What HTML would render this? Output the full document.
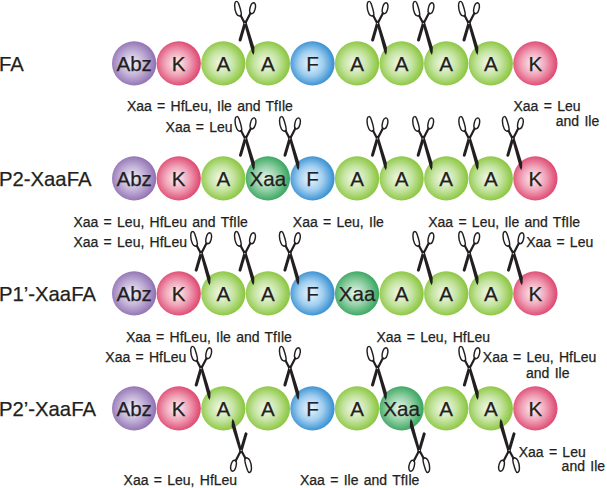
<!DOCTYPE html><html><head><meta charset="utf-8"><style>html,body{margin:0;padding:0;background:#fff;width:607px;height:488px;overflow:hidden}svg{display:block}text{font-family:"Liberation Sans",sans-serif;fill:#231f20;stroke:#231f20;stroke-width:0.25px;paint-order:stroke}</style></head><body>
<svg width="607" height="488" viewBox="0 0 607 488">
<defs>
<radialGradient id="gpur" cx="0.47" cy="0.5" r="0.5" fx="0.45" fy="0.5"><stop offset="0" stop-color="#f5f1f9"/><stop offset="0.55" stop-color="#c3b2d8"/><stop offset="1" stop-color="#9476b5"/></radialGradient>
<radialGradient id="gpink" cx="0.47" cy="0.5" r="0.5" fx="0.45" fy="0.5"><stop offset="0" stop-color="#fdf1f4"/><stop offset="0.55" stop-color="#f0a3b8"/><stop offset="1" stop-color="#df4f76"/></radialGradient>
<radialGradient id="glg" cx="0.47" cy="0.5" r="0.5" fx="0.45" fy="0.5"><stop offset="0" stop-color="#f5faee"/><stop offset="0.55" stop-color="#c5e4a2"/><stop offset="1" stop-color="#8fc846"/></radialGradient>
<radialGradient id="gblue" cx="0.47" cy="0.5" r="0.5" fx="0.45" fy="0.5"><stop offset="0" stop-color="#eef6fd"/><stop offset="0.55" stop-color="#a2cff0"/><stop offset="1" stop-color="#3f94d3"/></radialGradient>
<radialGradient id="gdg" cx="0.47" cy="0.5" r="0.5" fx="0.45" fy="0.5"><stop offset="0" stop-color="#e8f6ec"/><stop offset="0.55" stop-color="#93d0a6"/><stop offset="1" stop-color="#3fa965"/></radialGradient>
<g id="sc" fill="none" stroke="#231f20">
<path d="M-8.5,-21.2 C-11.1,-20.6 -10.8,-13.5 -8.6,-9.0 C-7.4,-6.6 -4.8,-5.8 -3.8,-7.4 C-3.2,-9.2 -5.2,-15.5 -6.4,-19 C-7,-20.6 -7.8,-21.4 -8.5,-21.2 Z" stroke-width="1.45"/>
<path d="M8.6,-19.9 C10.4,-20.0 11.0,-16.5 10.1,-13.5 C9.3,-10.5 7.8,-8.6 6.1,-8.9 C4.4,-9.2 4.4,-12 5.1,-15 C5.8,-18 7.1,-19.7 8.6,-19.9 Z" stroke-width="1.45"/>
<path d="M-4.3,-7.0 L-0.3,0.6" stroke-width="2.2" stroke-linecap="round"/>
<path d="M5.4,-9.4 L0.4,0.4" stroke-width="2.2" stroke-linecap="round"/>
<path d="M-1.6,-1.6 L1.0,-2.0 L9.4,25 L9.3,29.5 L8.5,32.5 L7.0,30.0 Z" fill="#231f20" stroke="none"/>
<path d="M0.0,0.6 L-4.9,17.4" stroke-width="3.0" stroke-linecap="round"/>
<circle cx="-0.1" cy="1.0" r="0.6" fill="#fff" stroke="none"/>
</g>
</defs>
<text x="-1.0" y="71.3" font-size="20.3">FA</text>
<text x="-1.0" y="186.3" font-size="20.3">P2-XaaFA</text>
<text x="-1.0" y="301.3" font-size="20.3">P1’-XaaFA</text>
<text x="-1.0" y="416.3" font-size="20.3">P2’-XaaFA</text>
<circle cx="134.15" cy="63.40" r="22.15" fill="url(#gpur)"/>
<text x="134.15" y="71.00" font-size="20.6" text-anchor="middle">Abz</text>
<circle cx="178.73" cy="63.40" r="22.15" fill="url(#gpink)"/>
<text x="178.73" y="71.00" font-size="20.6" text-anchor="middle">K</text>
<circle cx="223.31" cy="63.40" r="22.15" fill="url(#glg)"/>
<text x="223.31" y="71.00" font-size="20.6" text-anchor="middle">A</text>
<circle cx="267.89" cy="63.40" r="22.15" fill="url(#glg)"/>
<text x="267.89" y="71.00" font-size="20.6" text-anchor="middle">A</text>
<circle cx="312.47" cy="63.40" r="22.15" fill="url(#gblue)"/>
<text x="312.47" y="71.00" font-size="20.6" text-anchor="middle">F</text>
<circle cx="357.05" cy="63.40" r="22.15" fill="url(#glg)"/>
<text x="357.05" y="71.00" font-size="20.6" text-anchor="middle">A</text>
<circle cx="401.63" cy="63.40" r="22.15" fill="url(#glg)"/>
<text x="401.63" y="71.00" font-size="20.6" text-anchor="middle">A</text>
<circle cx="446.21" cy="63.40" r="22.15" fill="url(#glg)"/>
<text x="446.21" y="71.00" font-size="20.6" text-anchor="middle">A</text>
<circle cx="490.79" cy="63.40" r="22.15" fill="url(#glg)"/>
<text x="490.79" y="71.00" font-size="20.6" text-anchor="middle">A</text>
<circle cx="535.37" cy="63.40" r="22.15" fill="url(#gpink)"/>
<text x="535.37" y="71.00" font-size="20.6" text-anchor="middle">K</text>
<circle cx="134.15" cy="178.40" r="22.15" fill="url(#gpur)"/>
<text x="134.15" y="186.00" font-size="20.6" text-anchor="middle">Abz</text>
<circle cx="178.73" cy="178.40" r="22.15" fill="url(#gpink)"/>
<text x="178.73" y="186.00" font-size="20.6" text-anchor="middle">K</text>
<circle cx="223.31" cy="178.40" r="22.15" fill="url(#glg)"/>
<text x="223.31" y="186.00" font-size="20.6" text-anchor="middle">A</text>
<circle cx="267.89" cy="178.40" r="22.15" fill="url(#gdg)"/>
<text x="267.89" y="186.00" font-size="20.6" text-anchor="middle">Xaa</text>
<circle cx="312.47" cy="178.40" r="22.15" fill="url(#gblue)"/>
<text x="312.47" y="186.00" font-size="20.6" text-anchor="middle">F</text>
<circle cx="357.05" cy="178.40" r="22.15" fill="url(#glg)"/>
<text x="357.05" y="186.00" font-size="20.6" text-anchor="middle">A</text>
<circle cx="401.63" cy="178.40" r="22.15" fill="url(#glg)"/>
<text x="401.63" y="186.00" font-size="20.6" text-anchor="middle">A</text>
<circle cx="446.21" cy="178.40" r="22.15" fill="url(#glg)"/>
<text x="446.21" y="186.00" font-size="20.6" text-anchor="middle">A</text>
<circle cx="490.79" cy="178.40" r="22.15" fill="url(#glg)"/>
<text x="490.79" y="186.00" font-size="20.6" text-anchor="middle">A</text>
<circle cx="535.37" cy="178.40" r="22.15" fill="url(#gpink)"/>
<text x="535.37" y="186.00" font-size="20.6" text-anchor="middle">K</text>
<circle cx="134.15" cy="293.40" r="22.15" fill="url(#gpur)"/>
<text x="134.15" y="301.00" font-size="20.6" text-anchor="middle">Abz</text>
<circle cx="178.73" cy="293.40" r="22.15" fill="url(#gpink)"/>
<text x="178.73" y="301.00" font-size="20.6" text-anchor="middle">K</text>
<circle cx="223.31" cy="293.40" r="22.15" fill="url(#glg)"/>
<text x="223.31" y="301.00" font-size="20.6" text-anchor="middle">A</text>
<circle cx="267.89" cy="293.40" r="22.15" fill="url(#glg)"/>
<text x="267.89" y="301.00" font-size="20.6" text-anchor="middle">A</text>
<circle cx="312.47" cy="293.40" r="22.15" fill="url(#gblue)"/>
<text x="312.47" y="301.00" font-size="20.6" text-anchor="middle">F</text>
<circle cx="357.05" cy="293.40" r="22.15" fill="url(#gdg)"/>
<text x="357.05" y="301.00" font-size="20.6" text-anchor="middle">Xaa</text>
<circle cx="401.63" cy="293.40" r="22.15" fill="url(#glg)"/>
<text x="401.63" y="301.00" font-size="20.6" text-anchor="middle">A</text>
<circle cx="446.21" cy="293.40" r="22.15" fill="url(#glg)"/>
<text x="446.21" y="301.00" font-size="20.6" text-anchor="middle">A</text>
<circle cx="490.79" cy="293.40" r="22.15" fill="url(#glg)"/>
<text x="490.79" y="301.00" font-size="20.6" text-anchor="middle">A</text>
<circle cx="535.37" cy="293.40" r="22.15" fill="url(#gpink)"/>
<text x="535.37" y="301.00" font-size="20.6" text-anchor="middle">K</text>
<circle cx="134.15" cy="408.40" r="22.15" fill="url(#gpur)"/>
<text x="134.15" y="416.00" font-size="20.6" text-anchor="middle">Abz</text>
<circle cx="178.73" cy="408.40" r="22.15" fill="url(#gpink)"/>
<text x="178.73" y="416.00" font-size="20.6" text-anchor="middle">K</text>
<circle cx="223.31" cy="408.40" r="22.15" fill="url(#glg)"/>
<text x="223.31" y="416.00" font-size="20.6" text-anchor="middle">A</text>
<circle cx="267.89" cy="408.40" r="22.15" fill="url(#glg)"/>
<text x="267.89" y="416.00" font-size="20.6" text-anchor="middle">A</text>
<circle cx="312.47" cy="408.40" r="22.15" fill="url(#gblue)"/>
<text x="312.47" y="416.00" font-size="20.6" text-anchor="middle">F</text>
<circle cx="357.05" cy="408.40" r="22.15" fill="url(#glg)"/>
<text x="357.05" y="416.00" font-size="20.6" text-anchor="middle">A</text>
<circle cx="401.63" cy="408.40" r="22.15" fill="url(#gdg)"/>
<text x="401.63" y="416.00" font-size="20.6" text-anchor="middle">Xaa</text>
<circle cx="446.21" cy="408.40" r="22.15" fill="url(#glg)"/>
<text x="446.21" y="416.00" font-size="20.6" text-anchor="middle">A</text>
<circle cx="490.79" cy="408.40" r="22.15" fill="url(#glg)"/>
<text x="490.79" y="416.00" font-size="20.6" text-anchor="middle">A</text>
<circle cx="535.37" cy="408.40" r="22.15" fill="url(#gpink)"/>
<text x="535.37" y="416.00" font-size="20.6" text-anchor="middle">K</text>
<use href="#sc" transform="translate(245.00 22.60)"/>
<use href="#sc" transform="translate(377.50 22.60)"/>
<use href="#sc" transform="translate(423.40 22.60)"/>
<use href="#sc" transform="translate(468.90 22.60)"/>
<use href="#sc" transform="translate(245.40 137.80)"/>
<use href="#sc" transform="translate(289.90 137.80)"/>
<use href="#sc" transform="translate(377.40 137.80)"/>
<use href="#sc" transform="translate(423.10 137.80)"/>
<use href="#sc" transform="translate(469.20 137.80)"/>
<use href="#sc" transform="translate(512.80 137.80)"/>
<use href="#sc" transform="translate(201.10 252.70)"/>
<use href="#sc" transform="translate(244.90 252.70)"/>
<use href="#sc" transform="translate(289.80 252.70)"/>
<use href="#sc" transform="translate(423.30 252.70)"/>
<use href="#sc" transform="translate(469.10 252.70)"/>
<use href="#sc" transform="translate(513.40 252.70)"/>
<use href="#sc" transform="translate(201.10 367.60)"/>
<use href="#sc" transform="translate(289.80 367.60)"/>
<use href="#sc" transform="translate(377.40 367.60)"/>
<use href="#sc" transform="translate(469.30 367.60)"/>
<use href="#sc" transform="translate(241.10 451.30) rotate(180)"/>
<use href="#sc" transform="translate(419.30 451.30) rotate(180)"/>
<use href="#sc" transform="translate(509.10 451.30) rotate(180)"/>
<text x="126.9" y="110.9" font-size="14" word-spacing="1.4">Xaa = HfLeu, Ile and TfIle</text>
<text x="513.5" y="111.2" font-size="14" word-spacing="1.4">Xaa = Leu</text>
<text x="555.8" y="125.6" font-size="14" word-spacing="1.4">and Ile</text>
<text x="165.6" y="132.4" font-size="14" word-spacing="1.4">Xaa = Leu</text>
<text x="73.4" y="226.8" font-size="14" word-spacing="1.4">Xaa = Leu, HfLeu and TfIle</text>
<text x="292.8" y="226.8" font-size="14" word-spacing="1.4">Xaa = Leu, Ile</text>
<text x="428.2" y="226.8" font-size="14" word-spacing="1.4">Xaa = Leu, Ile and TfIle</text>
<text x="73.4" y="247.2" font-size="14" word-spacing="1.4">Xaa = Leu, HfLeu</text>
<text x="526.2" y="247.2" font-size="14" word-spacing="1.4">Xaa = Leu</text>
<text x="125.9" y="341.6" font-size="14" word-spacing="1.4">Xaa = HfLeu, Ile and TfIle</text>
<text x="376.5" y="341.6" font-size="14" word-spacing="1.4">Xaa = Leu, HfLeu</text>
<text x="105.3" y="361.8" font-size="14" word-spacing="1.4">Xaa = HfLeu</text>
<text x="482.8" y="362.2" font-size="14" word-spacing="1.4">Xaa = Leu, HfLeu</text>
<text x="526.0" y="377.6" font-size="14" word-spacing="1.4">and Ile</text>
<text x="123.6" y="485.2" font-size="14" word-spacing="1.4">Xaa = Leu, HfLeu</text>
<text x="300.0" y="485.2" font-size="14" word-spacing="1.4">Xaa = Ile and TfIle</text>
<text x="518.7" y="456.6" font-size="14" word-spacing="1.4">Xaa = Leu</text>
<text x="561.6" y="471.2" font-size="14" word-spacing="1.4">and Ile</text>
</svg></body></html>
